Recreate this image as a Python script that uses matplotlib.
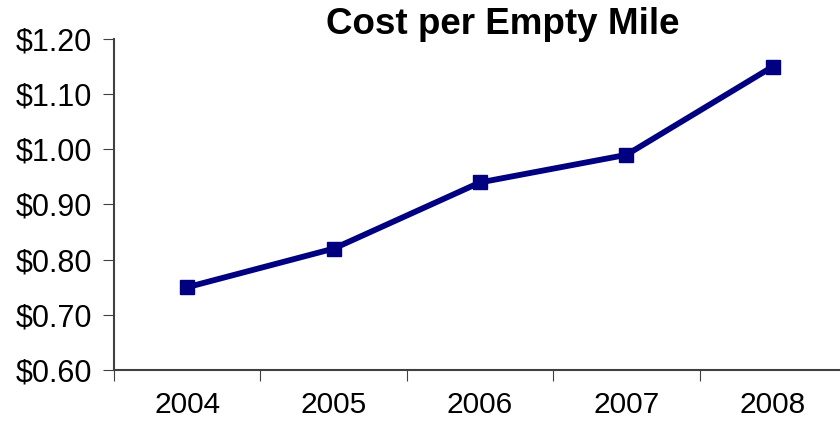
import matplotlib
matplotlib.use('Agg')
import matplotlib.pyplot as plt
from matplotlib.ticker import FuncFormatter

years = ['2004', '2005', '2006', '2007', '2008']
cost = [0.75, 0.82, 0.94, 0.99, 1.15]
yticks = [0.60, 0.70, 0.80, 0.90, 1.00, 1.10, 1.20]

plt.rcParams['font.family'] = ['Liberation Sans', 'DejaVu Sans']

fig = plt.figure(figsize=(8.4, 4.24), dpi=100)
ax = fig.add_axes([114 / 840, 54 / 424, 732 / 840, 331 / 424])

x = list(range(len(years)))
ax.plot(x, cost, color='#000080', linewidth=4.2, marker='s', markersize=9.5,
        solid_joinstyle='miter')

ax.set_xlim(-0.5, len(years) - 0.5)
ax.set_ylim(0.60, 1.20)
ax.set_yticks(yticks)
ax.yaxis.set_major_formatter(FuncFormatter(lambda v, p: '${:.2f}'.format(v)))
ax.set_xticks([i - 0.5 for i in range(len(years) + 1)])
ax.set_xticklabels([])
ax.set_xticks(x, minor=True)
ax.set_xticklabels(years, minor=True)
ax.tick_params(axis='x', which='minor', length=0, pad=15, labelsize=21.5)
ax.tick_params(axis='x', which='major', length=8, direction='out', color='#404040')
ax.tick_params(axis='y', length=8, direction='out', color='#404040', labelsize=22, pad=8)

for side in ['top', 'right']:
    ax.spines[side].set_visible(False)
for side in ['left', 'bottom']:
    ax.spines[side].set_color('#404040')
    ax.spines[side].set_linewidth(1.5)

fig.text(503 / 840, 1 - 24 / 424, 'Cost per Empty Mile', ha='center', va='center',
         fontsize=26.5, fontweight='bold')

fig.savefig('out.png', dpi=100)
